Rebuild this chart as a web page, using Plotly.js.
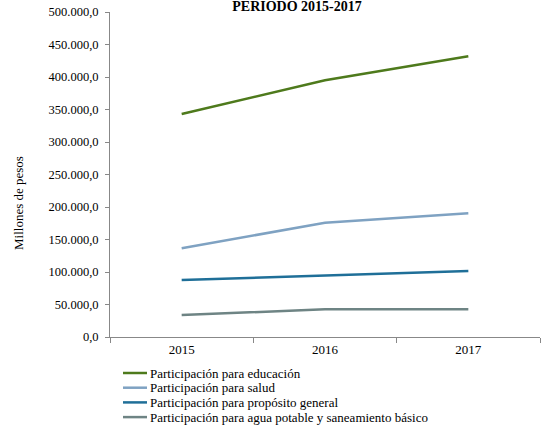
<!DOCTYPE html>
<html><head><meta charset="utf-8">
<script src="https://cdn.plot.ly/plotly-3.0.1.min.js"></script>
<style>body{margin:0;background:#fff}#chart{width:542px;height:428px}</style>
</head><body><div id="chart"></div>
<script>
const years = ['2015', '2016', '2017'];
const educacion = [343000, 395000, 432000];
const salud = [136500, 175800, 190300];
const proposito = [87700, 94300, 101500];
const agua = [33800, 42600, 42600];
const seriesNames = [
  'Participación para educación',
  'Participación para salud',
  'Participación para propósito general',
  'Participación para agua potable y saneamiento básico'
];
const colors = ['#4E7A1C', '#7FA2C2', '#1F6F98', '#6E8484'];
const values = [educacion, salud, proposito, agua];
const FONT = 'Liberation Serif, serif';
const traces = values.map((v, i) => ({
  x: years, y: v, type: 'scatter', mode: 'lines', name: seriesNames[i],
  line: {color: colors[i], width: 2.5}, showlegend: false
}));
// legend drawn as annotations + line samples (rows ~15px apart)
const plotH = 325, plotW = 430;
const shapes = [], annotations = [];
seriesNames.forEach((n, i) => {
  const yp = (-36 - i * 14.7) / plotH;
  shapes.push({type: 'line', xref: 'paper', yref: 'paper', x0: 13 / plotW, x1: 37 / plotW, y0: yp, y1: yp,
               line: {color: colors[i], width: 2.5}});
  annotations.push({xref: 'paper', yref: 'paper', x: 38 / plotW, y: yp, xanchor: 'left', yanchor: 'middle',
                    text: n, showarrow: false, font: {family: FONT, size: 13, color: '#000'}});
});
annotations.push({xref: 'paper', yref: 'paper', x: -92 / plotW, y: 134 / plotH, xanchor: 'center', yanchor: 'middle',
                  text: 'Millones de pesos', textangle: -90, showarrow: false,
                  font: {family: FONT, size: 13, color: '#000'}});
const layout = {
  width: 542, height: 428,
  margin: {l: 110, r: 2, t: 12, b: 91},
  paper_bgcolor: '#fff', plot_bgcolor: '#fff',
  separators: ',.',
  font: {family: FONT, size: 12.5, color: '#000'},
  title: {text: '<b>PERIODO 2015-2017</b>', x: 0.548, xanchor: 'center', y: 0.985, yanchor: 'middle',
          font: {family: FONT, size: 14, color: '#000'}},
  xaxis: {type: 'category', range: [-0.5, 2.5], showline: true, linecolor: '#888', linewidth: 1,
          ticks: 'outside', tickson: 'boundaries', ticklen: 5, tickcolor: '#888',
          showgrid: false, zeroline: false, tickfont: {family: FONT, size: 13}},
  yaxis: {range: [0, 500000], dtick: 50000, tickformat: ',.1f', showline: true, linecolor: '#888',
          linewidth: 1, ticks: 'outside', ticklen: 4, tickcolor: '#888', showgrid: false, zeroline: false,
          ticklabelstandoff: 4, tickfont: {family: FONT, size: 12.5}},
  showlegend: false,
  shapes: shapes,
  annotations: annotations
};
Plotly.newPlot('chart', traces, layout, {displayModeBar: false, staticPlot: true});
</script></body></html>
